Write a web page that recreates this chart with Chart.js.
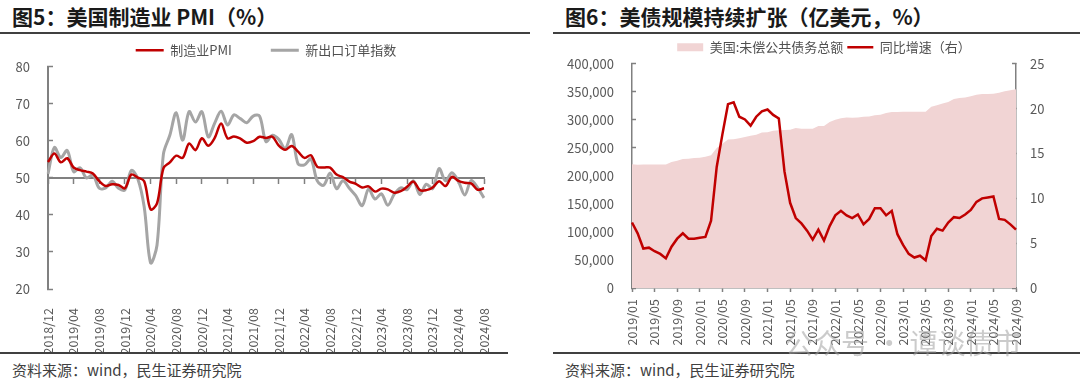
<!DOCTYPE html>
<html>
<head>
<meta charset="utf-8">
<script src="https://cdn.jsdelivr.net/npm/chart.js@4.4.1/dist/chart.umd.min.js"></script>
<style>
  body { margin: 0; background: #fff; width: 1080px; height: 390px; overflow: hidden; position: relative;
         font-family: "Noto Sans CJK SC", "Noto Sans", sans-serif; }
  .title { position: absolute; top: 6px; line-height: 21px; font-size: 21px; font-weight: bold; color: #1a1a1a; white-space: nowrap; }
  .rule { position: absolute; height: 2px; background: #404040; }
  .src { position: absolute; top: 362px; line-height: 15px; font-size: 15px; color: #404040; white-space: nowrap; }
  .mark { position: absolute; left: 785px; top: 328px; line-height: 28px; font-size: 28px; color: rgba(160,160,160,0.55); white-space: nowrap; }
  canvas { position: absolute; }
</style>
</head>
<body>
<div class="title" style="left:12px">图5：美国制造业 PMI（%）</div>
<div class="title" style="left:565px">图6：美债规模持续扩张（亿美元，%）</div>
<div class="rule" style="left:0;top:32px;width:530px"></div>
<div class="rule" style="left:553px;top:32px;width:527px"></div>

<canvas id="pmi" width="510" height="316" style="left:0;top:36px"></canvas>
<canvas id="debt" width="527" height="318" style="left:553px;top:34px"></canvas>

<div class="rule" style="left:0;top:352px;width:508px"></div>
<div class="rule" style="left:553px;top:352px;width:527px"></div>
<div class="src" style="left:12px">资料来源：wind，民生证券研究院</div>
<div class="src" style="left:565px">资料来源：wind，民生证券研究院</div>
<div class="mark">公众号 · 谭谈债市</div>

<script>
// month labels "YYYY/MM"
function months(y, m, n) {
  const out = [];
  for (let i = 0; i < n; i++) {
    out.push(y + '/' + String(m).padStart(2, '0'));
    m++;
    if (m > 12) { m = 1; y++; }
  }
  return out;
}

// 图5 data, 2018/12 - 2024/08
const pmiMonths = months(2018, 12, 69);
const pmi = [54.3,
  56.6, 54.2, 55.3, 52.8, 52.1, 51.7, 51.2, 49.1, 47.8, 48.3, 48.1, 47.2,
  50.9, 50.1, 49.1, 41.5, 43.1, 52.6, 54.2, 56.0, 55.4, 59.3, 57.5, 60.7,
  58.7, 60.8, 64.7, 60.7, 61.2, 60.6, 59.5, 59.9, 61.1, 60.8, 61.1, 58.7,
  57.6, 58.6, 57.1, 55.4, 56.1, 53.0, 52.8, 52.8, 50.9, 50.2, 49.0, 48.4,
  47.4, 47.7, 46.3, 47.1, 46.9, 46.0, 46.4, 47.6, 49.0, 46.7, 46.7, 47.4,
  49.1, 47.8, 50.3, 49.2, 48.7, 48.5, 46.8, 47.2];
const exportOrders = [51.1,
  58.2, 55.5, 57.4, 51.7, 52.7, 50.0, 50.8, 47.2, 47.3, 49.1, 47.2, 46.8,
  52.0, 49.8, 42.2, 27.1, 31.8, 56.4, 61.5, 67.6, 60.2, 67.9, 65.1, 67.9,
  61.1, 64.8, 68.0, 64.3, 67.0, 66.0, 64.9, 66.7, 66.7, 59.8, 61.5, 60.4,
  57.9, 61.7, 53.8, 53.5, 55.1, 49.2, 48.0, 51.3, 47.1, 49.2, 47.2, 45.2,
  42.5, 47.0, 44.3, 45.7, 42.6, 45.6, 47.3, 46.8, 49.2, 45.5, 48.3, 47.1,
  52.5, 49.2, 51.4, 49.1, 45.4, 49.3, 47.4, 44.6];
const pmiTicks = [20, 30, 40, 50, 60, 70, 80];

// 图6 data, 2019/01 - 2024/09
const debtMonths = months(2019, 1, 69);
const debtTotal = [
  220900, 220000, 220300, 220300, 220300, 220200, 220200, 224900, 227200, 230100, 230800, 232000,
  232200, 234100, 236900, 249700, 257500, 264800, 265300, 267300, 269500, 271500, 273500, 277500,
  278000, 280500, 281300, 281700, 282300, 285300, 284300, 284300, 284300, 289100, 289100, 296200,
  300100, 302900, 304000, 303700, 304000, 305700, 306000, 308300, 309300, 312400, 314200, 314200,
  314600, 314600, 314600, 314600, 314600, 323300, 326100, 329100, 331700, 337000, 338900, 340000,
  341900, 344700, 345900, 346200, 346700, 348300, 350900, 352600, 354600];
const debtYoY = [
  7.3, 6.1, 4.4, 4.5, 4.1, 3.8, 3.3, 4.6, 5.5, 6.1, 5.5, 5.5,
  5.6, 5.7, 7.5, 13.5, 17.1, 20.5, 20.7, 19.1, 18.8, 18.1, 19.1, 19.7,
  19.9, 19.3, 18.9, 13.0, 9.5, 7.8, 7.2, 6.4, 5.4, 6.5, 5.3, 6.9,
  8.1, 8.6, 8.1, 7.8, 8.2, 7.1, 7.7, 8.9, 8.9, 8.1, 8.6, 6.0,
  4.8, 3.8, 3.4, 3.6, 3.1, 5.8, 6.6, 6.4, 7.3, 7.9, 7.8, 8.2,
  8.7, 9.6, 10.0, 10.1, 10.2, 7.7, 7.6, 7.1, 6.5];

Chart.defaults.font.family = '"Noto Sans CJK SC", "Noto Sans", sans-serif';
Chart.defaults.color = '#595959';

const axisGray = '#808080';
const red = '#C00000';
const everyFourth = c => c.index % 4 === 0 ? axisGray : 'rgba(0,0,0,0)';
const fourthLabel = function (v, i) { return i % 4 === 0 ? this.getLabelForValue(v) : ''; };

new Chart(document.getElementById('pmi'), {
  type: 'line',
  data: {
    labels: pmiMonths,
    datasets: [
      { label: '制造业PMI', data: pmi, borderColor: red, backgroundColor: red,
        borderWidth: 2.5, pointRadius: 0, tension: 0.33 },
      { label: '新出口订单指数', data: exportOrders, borderColor: '#A5A5A5', backgroundColor: '#A5A5A5',
        borderWidth: 3, pointRadius: 0, tension: 0.33 }
    ]
  },
  options: {
    responsive: false,
    animation: false,
    layout: { padding: { top: 1, right: 20, left: 0, bottom: 0 } },
    plugins: {
      tooltip: { enabled: false },
      legend: {
        fullSize: false,
        labels: {
          usePointStyle: true, pointStyle: 'line', pointStyleWidth: 28, padding: 0,
          color: '#505050', font: { size: 13 },
          generateLabels: chart => {
            const items = Chart.defaults.plugins.legend.labels.generateLabels(chart);
            items.forEach((it, i) => { if (i < items.length - 1) it.text += '\u2003\u2003\u2003'; });
            return items;
          }
        }
      }
    },
    scales: {
      x: {
        grid: { display: false }, border: { display: false },
        ticks: { autoSkip: false, minRotation: 90, maxRotation: 90, padding: 11,
                 font: { size: 12.5 }, callback: fourthLabel },
        afterFit: s => { s.height = 63; }
      },
      x2: {
        type: 'category', position: { y: 50 },
        ticks: { display: false },
        grid: { drawOnChartArea: false, tickLength: 5, tickWidth: 1.5, tickColor: everyFourth },
        border: { color: axisGray, width: 2 },
        afterFit: s => { s.height = 0; }
      },
      y: {
        min: 20, max: 80,
        afterBuildTicks: s => { s.ticks = pmiTicks.map(v => ({ value: v })); },
        ticks: { padding: 23, font: { size: 13 } },
        grid: { drawOnChartArea: false, tickLength: -5, tickColor: axisGray, tickWidth: 1.5 },
        border: { color: axisGray, width: 2 },
        afterFit: s => { s.width = 48; }
      }
    }
  }
});

new Chart(document.getElementById('debt'), {
  type: 'line',
  data: {
    labels: debtMonths,
    datasets: [
      { label: '美国:未偿公共债务总额', data: debtTotal, yAxisID: 'y', order: 2,
        fill: 'origin', backgroundColor: '#F1D4D4', borderColor: '#F1D4D4', borderWidth: 0,
        pointRadius: 0, pointStyle: 'rect', tension: 0 },
      { label: '同比增速（右）', data: debtYoY, yAxisID: 'y1', order: 1,
        borderColor: red, backgroundColor: red, borderWidth: 2.5,
        pointRadius: 0, pointStyle: 'line', tension: 0 }
    ]
  },
  options: {
    responsive: false,
    animation: false,
    layout: { padding: { top: 1, right: 0, left: 0, bottom: 0 } },
    plugins: {
      tooltip: { enabled: false },
      legend: {
        fullSize: false,
        labels: {
          usePointStyle: true, pointStyleWidth: 26, boxHeight: 8, padding: 4,
          color: '#505050', font: { size: 13 },
          sort: (a, b) => a.datasetIndex - b.datasetIndex
        }
      }
    },
    scales: {
      x: {
        grid: { drawOnChartArea: false, tickLength: 4, tickWidth: 1.5, tickColor: everyFourth },
        border: { color: axisGray, width: 1.5 },
        ticks: { autoSkip: false, minRotation: 90, maxRotation: 90, padding: 7,
                 font: { size: 12.5 }, callback: fourthLabel },
        afterFit: s => { s.height = 64; }
      },
      y: {
        position: 'left', min: 0, max: 400000,
        ticks: { stepSize: 50000, padding: 22, font: { size: 13 },
                 callback: v => v.toLocaleString('en-US') },
        grid: { drawOnChartArea: false, tickLength: -4, tickColor: axisGray, tickWidth: 1.5 },
        border: { color: axisGray, width: 1.5 },
        afterFit: s => { s.width = 79; }
      },
      y1: {
        position: 'right', min: 0, max: 25,
        ticks: { stepSize: 5, padding: 18, font: { size: 13 } },
        grid: { drawOnChartArea: false, tickLength: -4, tickColor: axisGray, tickWidth: 1.5 },
        border: { color: axisGray, width: 1.5 },
        afterFit: s => { s.width = 64; }
      }
    }
  }
});
</script>
</body>
</html>
